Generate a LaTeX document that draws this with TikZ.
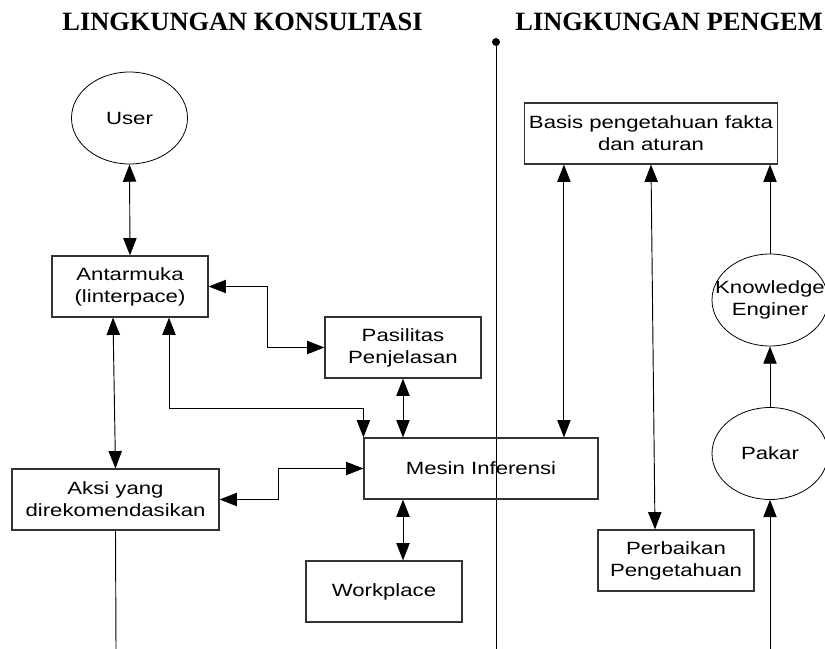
\documentclass[tikz,border=0pt]{standalone}
\usepackage{fontspec}
\setmainfont{Liberation Sans}[FakeStretch=1.25]
\newfontfamily\titlefont{Liberation Serif}
\usetikzlibrary{arrows.meta,shapes.geometric}

\begin{document}
\begin{tikzpicture}[
        x=0.75pt, y=-0.75pt,
        >={Triangle[length=13pt, width=10pt]},
        every path/.style={line width=0.7pt},
        box/.style={rectangle, draw=black!80, line width=0.9pt, minimum width=117pt, minimum height=45.75pt, align=center, font=\fontsize{13.3}{16.5}\selectfont},
        actor/.style={ellipse, draw, line width=0.6pt, minimum width=87pt, minimum height=69pt, inner sep=0pt, align=center, font=\fontsize{13.3}{16.5}\selectfont},
        heading/.style={inner sep=0pt, anchor=base west, font=\titlefont\bfseries\fontsize{19.8}{24}\selectfont},
    ]
        \useasboundingbox (0,0) rectangle (825,649);

        % Headings
        \node[heading] (konsul) at (62,31) {LINGKUNGAN KONSULTASI};
        \node[heading] (pengem) at (515,31) {LINGKUNGAN PENGEM};

        % Divider
        \node[circle, fill, inner sep=0pt, minimum size=6pt] (dot) at (496,42) {};
        \coordinate (divend) at (496,649);
        \draw (dot.center) -- (divend);

        % Consultation side
        \node[actor] (user) at (129.5,118) {User};
        \node[box] (antar) at (130,286.5) {Antarmuka\\(linterpace)};
        \node[box] (pasil) at (403,347.5) {Pasilitas\\Penjelasan};
        \node[box, minimum width=175.5pt] (mesin) at (481,468.5) {Mesin Inferensi};
        \node[box, minimum width=155.25pt] (aksi) at (115.5,499.5) {Aksi yang\\direkomendasikan};
        \node[box] (work) at (384,591.5) {Workplace};
        \coordinate (aksiout) at (116,649);

        % Development side
        \node[box, minimum width=187.5pt] (basis) at (651,133.5) {Basis pengetahuan fakta\\dan aturan};
        \node[box] (perb) at (676,560.5) {Perbaikan\\Pengetahuan};
        \node[actor] (ke) at (770,300) {};
        \node[align=center, inner sep=0pt, font=\fontsize{13.3}{16.5}\selectfont] (ketext) at (ke.center) {Knowledge\\Enginer};
        \node[actor] (pakar) at (770,453.5) {Pakar};
        \coordinate (pakarin) at (770,649);

        % Arrows
        \draw[<->] (user.south) -- (antar.north);
        \draw[<->] (antar.east) -- ++(59,0) |- (pasil.west);
        \draw[<->] ([xshift=29.25pt]antar.south) |- ([yshift=21.75pt]mesin.north west) -- (mesin.north west);
        \draw[<->] (pasil.south) -- (pasil.south |- mesin.north);
        \draw[<->] ([xshift=-12.75pt]antar.south) -- (aksi.north);
        \draw[<->] (aksi.east) -- ++(59,0) |- (mesin.west);
        \draw[<->] ([xshift=14.25pt]work.north |- mesin.south) -- ([xshift=14.25pt]work.north);
        \draw (aksi.south) -- (aksiout);
        \draw[<->] ([xshift=30pt]basis.south west) -- ([xshift=30pt]basis.south west |- mesin.north);
        \draw[<->] (basis.south) -- ([xshift=-15.75pt]perb.north);
        \draw[->] (ke.north) -- (ke.north |- basis.south);
        \draw[->] (pakar.north) -- (ke.south);
        \draw[->] (pakarin) -- (pakar.south);

    \end{tikzpicture}
\end{document}
